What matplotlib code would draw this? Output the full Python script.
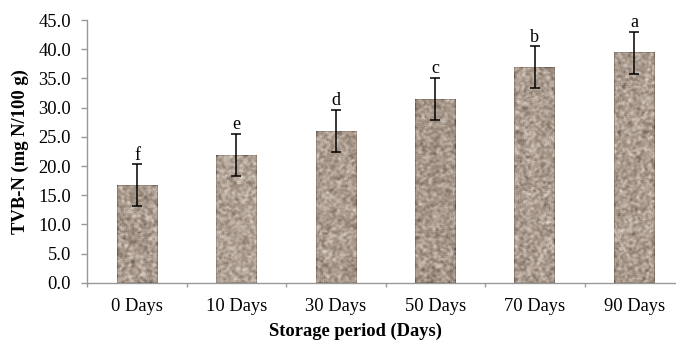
import matplotlib
matplotlib.use('Agg')
import matplotlib.pyplot as plt
import numpy as np
from matplotlib.colors import LinearSegmentedColormap

plt.rcParams['font.family'] = ['Liberation Serif', 'DejaVu Serif']

periods = ['0 Days', '10 Days', '30 Days', '50 Days', '70 Days', '90 Days']
tvbn = [16.7, 21.9, 26.0, 31.5, 36.9, 39.4]
sd = [3.6, 3.6, 3.6, 3.6, 3.6, 3.6]
letters = ['f', 'e', 'd', 'c', 'b', 'a']

# granite-like texture used to fill the bars (style only)
rng = np.random.default_rng(3)
def texture(h, w):
    n = rng.random((h, w))
    k = np.ones(3) / 3
    n = np.apply_along_axis(lambda r: np.convolve(r, k, mode='same'), 1, n)
    n = np.apply_along_axis(lambda c: np.convolve(c, k, mode='same'), 0, n)
    n = (n - n.min()) / (n.max() - n.min())
    return n

cmap = LinearSegmentedColormap.from_list('granite', ['#4e3f36', '#87766a', '#a69789', '#c8bcb1', '#eae2da'])

fig = plt.figure(figsize=(6.76, 3.4), dpi=100)
ax = fig.add_axes([0.129, 0.168, 0.883, 0.773])

x = np.arange(len(periods))
width = 0.41
bars = ax.bar(x, tvbn, width=width, color='none', edgecolor='none', zorder=1)
for b in bars:
    x0 = b.get_x()
    h = b.get_height()
    img = texture(int(h * 6) + 2, 40)
    ax.imshow(img, cmap=cmap, extent=(x0, x0 + width, 0, h), aspect='auto',
              interpolation='bilinear', zorder=1, vmin=-0.05, vmax=1.05)

ax.errorbar(x, tvbn, yerr=sd, fmt='none', ecolor='black', elinewidth=1.1,
            capsize=3.5, capthick=1.1, zorder=3)

for xi, v, s, l in zip(x, tvbn, sd, letters):
    ax.text(xi, v + s + 0.1, l, ha='center', va='bottom', fontsize=13)

ax.set_xlim(-0.5, 5.5)
ax.set_ylim(0, 45)
ax.set_yticks(np.arange(0, 46, 5))
ax.set_yticklabels(['%.1f' % t for t in np.arange(0, 46, 5)], fontsize=13.3)
ax.set_xticks(x)
ax.set_xticklabels(periods, fontsize=13.3)
ax.set_xticks(np.arange(-0.5, 6, 1), minor=True)
ax.tick_params(axis='x', which='major', length=0, pad=11)
ax.tick_params(axis='x', which='minor', length=3, color='#999999', width=1)
ax.tick_params(axis='y', length=4.5, color='#999999', width=1, pad=7)

for s in ['top', 'right']:
    ax.spines[s].set_visible(False)
for s in ['left', 'bottom']:
    ax.spines[s].set_color('#999999')
    ax.spines[s].set_linewidth(1)

ax.set_ylabel('TVB-N (mg N/100 g)', fontsize=13.4, fontweight='bold', labelpad=7)
ax.set_xlabel('Storage period (Days)', fontsize=13.3, fontweight='bold')
ax.xaxis.set_label_coords(0.449, -0.150)

fig.savefig('out.png', dpi=100)
